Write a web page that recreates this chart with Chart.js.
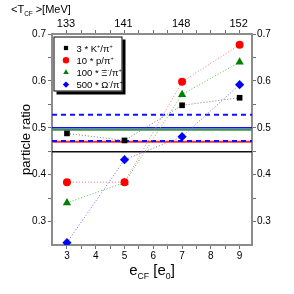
<!DOCTYPE html>
<html>
<head>
<meta charset="utf-8">
<script src="https://cdn.jsdelivr.net/npm/chart.js@4/dist/chart.umd.min.js"></script>
<style>
  html, body { margin: 0; padding: 0; background: #fff; }
  #wrap { width: 294px; height: 294px; }
</style>
</head>
<body>
<div id="wrap"><canvas id="chart" width="294" height="294"></canvas></div>
<script>
// coupling strength e_CF in units of e_0
const eCF = [3, 5, 7, 9]
const kaonRatio = [0.488, 0.473, 0.548, 0.564]    // 3 * K+/pi+
const protonRatio = [0.384, 0.384, 0.598, 0.677]  // 10 * p/pi+
const xiRatio = [0.340, 0.383, 0.571, 0.640]      // 100 * Xi-/pi+
const omegaRatio = [0.255, 0.432, 0.481, 0.592]   // 500 * Omega-/pi+

// top axis: mean temperature at the given e_CF
const tempTickAt = [3, 5, 7, 9]
const tempLabels = ['133', '141', '148', '152']

// horizontal reference levels (experimental ratios)
const refLevels = [0.528, 0.5, 0.496, 0.472, 0.470, 0.449]

const xRange = [2.48, 9.43]
const yRange = [0.25, 0.7]

const FONT = '"Liberation Sans", Arial, Helvetica, sans-serif'

const seriesLabels = [
  [['3 * K'], ['+', 'sup'], ['/π'], ['+', 'sup']],
  [['10 * p/π'], ['+', 'sup']],
  [['100 * Ξ'], ['-', 'sup'], ['/π'], ['+', 'sup']],
  [['500 * Ω'], ['-', 'sup'], ['/π'], ['+', 'sup']]
]

const toPoints = (xs, ys) => xs.map((x, i) => ({ x, y: ys[i] }))

const seriesDataset = (label, ys, color, lineColor, style, radius) => ({
  label,
  data: toPoints(eCF, ys),
  showLine: true,
  borderColor: lineColor,
  borderWidth: 1,
  borderDash: [1, 2],
  pointStyle: style,
  pointRadius: radius,
  pointBackgroundColor: color,
  pointBorderColor: color,
  pointBorderWidth: 0,
  order: 1
})

// styles for the reference lines, same order as refLevels
const refStyles = [
  { color: '#1010ff', width: 2, dash: [5, 4] },
  { color: '#1010ff', width: 1.5, dash: [] },
  { color: '#3a9a3a', width: 2, dash: [] },
  { color: '#1010ff', width: 2, dash: [5, 4] },
  { color: '#ff2a2a', width: 2, dash: [] },
  { color: '#111111', width: 1.5, dash: [] }
]

const refDatasets = refLevels.map((lvl, i) => ({
  label: 'ref' + i,
  data: [{ x: xRange[0], y: lvl }, { x: xRange[1], y: lvl }],
  showLine: true,
  borderColor: refStyles[i].color,
  borderWidth: refStyles[i].width,
  borderDash: refStyles[i].dash,
  pointRadius: 0,
  order: 2
}))

const series = [
  seriesDataset('kaon', kaonRatio, '#000000', '#777777', 'rect', 4),
  seriesDataset('proton', protonRatio, '#ff0000', '#ff7a7a', 'circle', 4),
  seriesDataset('xi', xiRatio, '#008000', '#5cb85c', 'triangle', 4.8),
  seriesDataset('omega', omegaRatio, '#0000ff', '#6a6aff', 'rectRot', 4.6)
]

const steps = (lo, hi, step) => {
  const out = []
  for (let v = lo; v <= hi + 1e-9; v += step) out.push({ value: +v.toFixed(3) })
  return out
}

const tickGrid = { drawOnChartArea: false, drawTicks: true, tickLength: 4, color: '#707070', lineWidth: 1 }
const axisBorder = { color: '#8c8c8c', width: 2 }
const tickFont = { family: FONT, size: 10 }

const yLabel = v => Math.abs(v * 10 - Math.round(v * 10)) < 1e-6 ? v.toFixed(1) : ''

function drawRich(ctx, parts, x, y, size, dryRun) {
  let cx = x
  parts.forEach(([t, kind]) => {
    const fs = kind ? size * 0.58 : size
    const dy = kind === 'sub' ? size * 0.28 : kind === 'sup' ? -size * 0.4 : 0
    ctx.font = `${fs}px ${FONT}`
    if (!dryRun) ctx.fillText(t, cx, y + dy)
    cx += ctx.measureText(t).width
  })
  return cx - x
}

const decorations = {
  id: 'decorations',
  afterDraw(chart) {
    const ctx = chart.ctx
    const area = chart.chartArea
    ctx.save()
    ctx.fillStyle = '#000'
    ctx.textBaseline = 'alphabetic'
    ctx.textAlign = 'left'

    // top-left title
    drawRich(ctx, [['<T'], ['CF', 'sub'], [' >[MeV]']], 11, 13, 11)

    // temperature labels on the top axis
    const top = chart.scales.x2
    ctx.textAlign = 'center'
    ctx.font = `11px ${FONT}`
    tempTickAt.forEach((v, i) => {
      ctx.fillText(tempLabels[i], top.getPixelForValue(v) - 1, 27)
    })
    ctx.textAlign = 'left'

    // bottom axis title
    const xt = [['e'], ['CF', 'sub'], [' [e'], ['0', 'sub'], [']']]
    const w = drawRich(ctx, xt, 0, 0, 15, true)
    drawRich(ctx, xt, (area.left + area.right) / 2 - w / 2, 275, 15)

    // left axis title
    ctx.save()
    ctx.translate(30, (area.top + area.bottom) / 2)
    ctx.rotate(-Math.PI / 2)
    ctx.textAlign = 'center'
    ctx.font = `13px ${FONT}`
    ctx.fillText('particle ratio', 0, 0)
    ctx.restore()

    // legend box with drop shadow
    const bx = area.left + 1.5, by = area.top + 2.5, bw = 69, bh = 55
    ctx.fillStyle = '#000'
    ctx.fillRect(bx + 3, by + 3, bw, bh)
    ctx.fillStyle = '#fff'
    ctx.fillRect(bx, by, bw, bh)
    ctx.strokeStyle = '#000'
    ctx.lineWidth = 1
    ctx.strokeRect(bx + 0.5, by + 0.5, bw - 1, bh - 1)

    series.forEach((ds, i) => {
      const ry = by + 11.5 + i * 12.2
      ctx.fillStyle = ds.pointBackgroundColor
      ctx.strokeStyle = ds.pointBackgroundColor
      Chart.helpers.drawPoint(ctx, { pointStyle: ds.pointStyle, radius: ds.pointStyle === 'rect' ? 3 : 3.2, rotation: 0, borderWidth: 0 }, bx + 12.5, ry)
      ctx.fillStyle = '#000'
      drawRich(ctx, seriesLabels[i], bx + 23, ry + 3.5, 9.5)
    })
    ctx.restore()
  }
}

new Chart(document.getElementById('chart'), {
  type: 'scatter',
  data: { datasets: [...series, ...refDatasets] },
  options: {
    responsive: false,
    animation: false,
    layout: { padding: 0 },
    plugins: { legend: { display: false }, tooltip: { enabled: false } },
    scales: {
      x: {
        type: 'linear', position: 'bottom', min: xRange[0], max: xRange[1],
        afterBuildTicks: s => { s.ticks = steps(3, 9, 0.5) },
        afterFit: s => { s.height = 49 },
        ticks: { callback: v => Number.isInteger(v) ? String(v) : '', font: tickFont, color: '#000', padding: 1, autoSkip: false, maxRotation: 0 },
        grid: tickGrid, border: axisBorder
      },
      x2: {
        type: 'linear', position: 'top', display: true, min: xRange[0], max: xRange[1],
        afterBuildTicks: s => { s.ticks = steps(3, 9, 0.5) },
        afterFit: s => { s.height = 34 },
        ticks: { callback: () => '', autoSkip: false, maxRotation: 0 },
        grid: tickGrid, border: axisBorder
      },
      y: {
        type: 'linear', position: 'left', min: yRange[0], max: yRange[1],
        afterBuildTicks: s => { s.ticks = steps(0.3, 0.7, 0.05) },
        afterFit: s => { s.width = 52 },
        ticks: { callback: yLabel, font: tickFont, color: '#000', padding: 2, autoSkip: false },
        grid: tickGrid, border: axisBorder
      },
      y2: {
        type: 'linear', position: 'right', display: true, min: yRange[0], max: yRange[1],
        afterBuildTicks: s => { s.ticks = steps(0.3, 0.7, 0.05) },
        afterFit: s => { s.width = 42 },
        ticks: { callback: yLabel, font: tickFont, color: '#000', padding: 1, autoSkip: false },
        grid: tickGrid, border: axisBorder
      }
    }
  },
  plugins: [decorations]
})
</script>
</body>
</html>
